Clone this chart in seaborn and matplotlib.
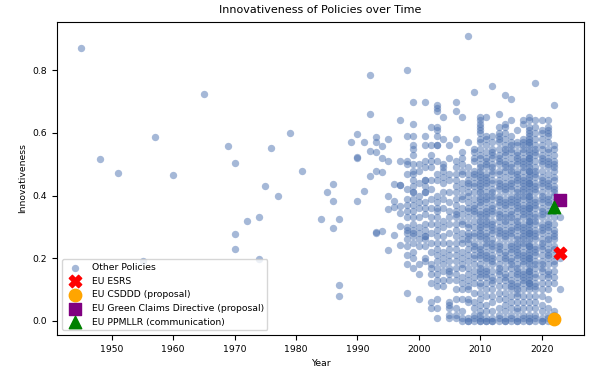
import numpy as np
import pandas as pd
import seaborn as sns
import matplotlib
matplotlib.use("Agg")
import matplotlib.pyplot as plt

# sparse early policies (year, innovativeness)
early_years = [1945, 1948, 1951, 1955, 1957, 1960, 1965, 1969, 1970, 1970, 1970,
               1972, 1974, 1974, 1975, 1976, 1977, 1979, 1981, 1984, 1985,
               1986, 1986, 1986, 1987, 1987, 1987, 1989, 1990, 1990, 1990, 1990,
               1991, 1991, 1992, 1992, 1992, 1992, 1993, 1993, 1993, 1993, 1993,
               1993, 1994, 1994, 1994, 1994, 1995, 1995, 1995, 1995, 1995,
               1996, 1996, 1996, 1996, 1997, 1997, 1997, 1997, 1997, 1997,
               1997, 1997]
early_vals = [0.872, 0.518, 0.471, 0.190, 0.588, 0.465, 0.726, 0.559, 0.504, 0.276, 0.229,
              0.319, 0.333, 0.197, 0.432, 0.553, 0.400, 0.599, 0.477, 0.326, 0.410,
              0.438, 0.383, 0.296, 0.326, 0.113, 0.080, 0.571, 0.596, 0.520, 0.523, 0.384,
              0.571, 0.414, 0.784, 0.661, 0.543, 0.462, 0.588, 0.571, 0.540, 0.480, 0.284,
              0.280, 0.558, 0.521, 0.474, 0.286, 0.581, 0.510, 0.400, 0.356, 0.225,
              0.438, 0.384, 0.364, 0.273, 0.642, 0.510, 0.434, 0.434, 0.366, 0.345,
              0.302, 0.242]

# dense years, innovativeness x100
v1998 = [80, 59, 51, 50, 47, 42, 39, 37, 35, 33, 30, 29, 28, 26, 24, 21, 18, 9]
v1999 = [70, 63, 59, 56, 55, 53, 50, 48, 47, 45, 43, 41, 41, 39, 37, 35, 33, 31, 29,
         28, 27, 25, 22, 20, 17]
v2000 = [50, 48, 44, 40, 38, 36, 33, 30, 28, 26, 24, 18, 15, 7]
v2001 = [70, 59, 56, 51, 49, 45, 45, 43, 41, 41, 38, 36, 34, 31, 29, 27, 27, 26, 24, 20, 19]
v2002 = [62, 56, 53, 51, 49, 45, 42, 39, 36, 33, 31, 28, 25, 22, 18, 17, 15, 12, 6, 4]
v2003 = [69, 68, 67, 62, 61, 59, 56, 56, 51, 47, 45, 40, 38, 36, 35, 33, 31, 29, 27,
         25, 23, 21, 19, 17, 15, 13, 11, 7, 4, 1]
v2004 = [65, 58, 50, 49, 48, 46, 44, 41, 39, 36, 32, 30, 27, 25, 22, 20, 18, 16, 13, 11]
v2005 = [56, 52, 47, 45, 41, 38, 35, 33, 31, 28, 25, 23, 21, 19, 17, 16, 15, 13, 6, 5, 4, 2, 1]
v2006 = [70, 67, 58, 51, 49, 47, 45, 43, 41, 39, 37, 35, 34, 33, 31, 29, 27, 25, 23,
         21, 19, 17, 15, 13, 10, 7, 4, 2, 1]
v2007 = [65, 54, 52, 50, 48, 47, 44, 42, 40, 39, 36, 34, 32, 31, 28, 26, 25, 22, 20,
         18, 17, 14, 12, 10, 7, 3, 1, 0]
v2008 = [91, 57, 49, 47, 45, 43, 41, 40, 38, 35, 33, 31, 30, 28, 26, 25, 23, 21, 19,
         17, 15, 13, 11, 10, 7, 6, 1, 0, 0, 44, 36, 27]
v2009 = [73, 55, 54, 52, 51, 48, 46, 44, 43, 41, 39, 37, 36, 34, 32, 30, 28, 27, 25,
         23, 21, 20, 18, 16, 14, 12, 9, 6, 4, 2, 1, 0, 47, 35, 24]
v2010 = [65, 64, 63, 62, 61, 60, 58, 57, 55, 53, 52, 50, 49, 48, 46, 45, 44, 42, 41,
         40, 38, 37, 35, 34, 33, 31, 30, 29, 27, 26, 24, 23, 21, 20, 18, 17, 15, 14,
         12, 11, 9, 7, 5, 3, 1, 0, 0, 47, 43, 39, 32, 28, 22, 16, 2]
v2011 = [65, 59, 58, 56, 54, 52, 51, 49, 47, 46, 44, 43, 41, 39, 38, 36, 35, 33, 32,
         30, 28, 27, 25, 24, 22, 21, 19, 17, 16, 14, 12, 10, 8, 5, 3, 1, 0,
         50, 45, 40, 34, 31, 26, 20, 15, 0]
v2012 = [75, 59, 57, 55, 54, 52, 50, 49, 47, 45, 44, 42, 40, 39, 37, 36, 34, 32, 31,
         29, 28, 26, 24, 23, 21, 20, 18, 16, 14, 12, 10, 8, 6, 3, 1, 0,
         53, 48, 41, 35, 30, 25, 19, 13, 0]
v2013 = [66, 62, 60, 59, 57, 55, 53, 52, 50, 48, 47, 45, 43, 42, 40, 38, 37, 35, 33,
         32, 30, 29, 27, 25, 24, 22, 20, 18, 17, 15, 13, 11, 9, 7, 4, 2, 0,
         58, 51, 44, 39, 34, 28, 23, 16, 1]
v2014 = [72, 63, 62, 60, 58, 56, 55, 53, 51, 50, 48, 46, 44, 43, 41, 39, 38, 36, 34,
         33, 31, 29, 28, 26, 24, 22, 21, 19, 17, 15, 13, 11, 9, 7, 5, 3, 1, 0,
         54, 49, 42, 37, 32, 27, 20, 14, 0]
v2015 = [71, 64, 59, 57, 56, 54, 52, 50, 49, 47, 45, 44, 42, 40, 39, 37, 35, 34, 32,
         30, 29, 27, 25, 24, 22, 20, 19, 17, 15, 13, 11, 10, 8, 6, 4, 2, 0,
         55, 48, 43, 38, 33, 28, 23, 18, 12, 1]
v2016 = [61, 57, 56, 54, 53, 51, 50, 48, 47, 45, 44, 42, 41, 39, 38, 36, 35, 33, 32,
         30, 29, 27, 26, 24, 23, 21, 20, 18, 17, 15, 14, 12, 11, 9, 8, 6, 4, 3, 1, 0,
         52, 46, 40, 37, 31, 25, 22, 16, 10, 0]
v2017 = [64, 63, 58, 57, 55, 54, 52, 51, 49, 48, 46, 45, 43, 42, 40, 39, 37, 36, 34,
         33, 31, 30, 28, 27, 25, 24, 22, 21, 19, 18, 16, 15, 13, 12, 10, 8, 6, 4, 2, 0,
         56, 50, 44, 41, 35, 29, 26, 20, 14, 1]
v2018 = [65, 64, 62, 61, 60, 59, 58, 57, 56, 55, 54, 53, 52, 51, 50, 49, 48, 47, 46,
         45, 44, 43, 42, 41, 40, 39, 38, 37, 36, 35, 34, 33, 32, 31, 30, 29, 28, 27,
         26, 25, 24, 23, 22, 21, 20, 19, 18, 17, 16, 15, 14, 13, 12, 11, 10, 8, 6,
         4, 2, 1, 0, 57, 52, 48, 44, 40, 36, 32, 28, 24, 20, 16, 12, 0]
v2019 = [76, 64, 62, 60, 58, 56, 54, 53, 51, 49, 48, 46, 44, 43, 41, 39, 38, 36, 34,
         33, 31, 29, 28, 26, 24, 22, 21, 19, 17, 15, 14, 12, 10, 8, 6, 4, 2, 0,
         55, 47, 42, 37, 32, 27, 23, 18, 11, 1]
v2020 = [64, 61, 60, 58, 56, 55, 53, 51, 50, 48, 46, 45, 43, 41, 40, 38, 36, 35, 33,
         31, 30, 28, 26, 25, 23, 21, 19, 18, 16, 14, 12, 10, 8, 5, 3, 1, 0,
         52, 44, 39, 34, 29, 24, 17, 0]
v2021 = [64, 62, 61, 59, 57, 55, 54, 52, 50, 49, 47, 45, 44, 42, 40, 39, 37, 35, 34,
         32, 30, 29, 27, 25, 23, 22, 20, 18, 16, 14, 12, 10, 7, 4, 2, 0,
         60, 51, 43, 38, 31, 26, 21, 15, 1]
v2022 = [69, 56, 55, 53, 51, 50, 48, 46, 45, 43, 41, 40, 38, 36, 35, 33, 31, 29, 28,
         26, 24, 23, 21, 19, 18, 16, 14, 12, 3, 2, 49, 42, 27]
v2023 = [33, 20, 10]

# highlighted EU policies
eu_names = ["EU ESRS", "EU CSDDD (proposal)", "EU Green Claims Directive (proposal)",
            "EU PPMLLR (communication)"]
eu_years = [2023, 2022, 2023, 2022]
eu_vals = [0.215, 0.006, 0.387, 0.362]
eu_markers = ["X", "o", "s", "^"]
eu_colors = ["red", "orange", "purple", "green"]

dense = {1998: v1998, 1999: v1999, 2000: v2000, 2001: v2001, 2002: v2002,
         2003: v2003, 2004: v2004, 2005: v2005, 2006: v2006, 2007: v2007,
         2008: v2008, 2009: v2009, 2010: v2010, 2011: v2011, 2012: v2012,
         2013: v2013, 2014: v2014, 2015: v2015, 2016: v2016, 2017: v2017,
         2018: v2018, 2019: v2019, 2020: v2020, 2021: v2021, 2022: v2022,
         2023: v2023}

years = list(early_years)
vals = list(early_vals)
for yr, vs in dense.items():
    years += [yr] * len(vs)
    vals += [v / 100 for v in vs]
data = pd.DataFrame({"Year": years, "Innovativeness": vals})

plt.rcParams["font.size"] = 6.7
fig, ax = plt.subplots(figsize=(6.02, 3.71), dpi=100)
fig.subplots_adjust(left=0.095, right=0.970, top=0.9415, bottom=0.097)

sns.scatterplot(data=data, x="Year", y="Innovativeness",
                color=sns.color_palette("deep")[0], alpha=0.5, s=28,
                linewidth=0, label="Other Policies", ax=ax)

for name, yr, v, m, c in zip(eu_names, eu_years, eu_vals, eu_markers, eu_colors):
    ax.scatter(yr, v, marker=m, color=c, s=80, label=name, zorder=3)

ax.set_title("Innovativeness of Policies over Time", fontsize=8)
ax.set_xlabel("Year")
ax.set_ylabel("Innovativeness")
ax.legend(loc="lower left")

plt.savefig("out.png", dpi=100)
